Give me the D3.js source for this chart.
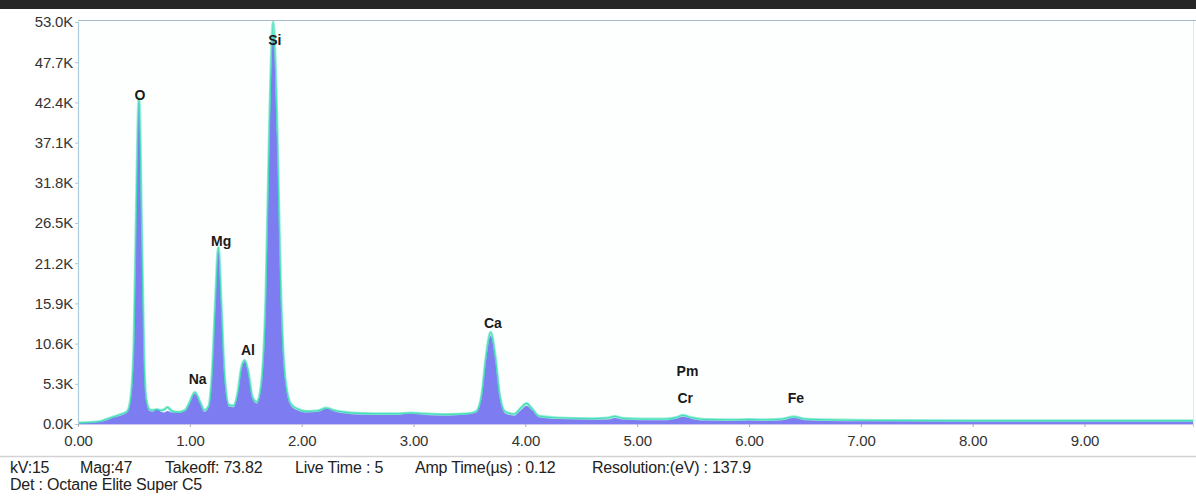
<!DOCTYPE html>
<html>
<head>
<meta charset="utf-8">
<script src="https://cdn.jsdelivr.net/npm/d3@7"></script>
<style>
	body { margin: 0; background: #ffffff; }
	svg { display: block; font-family: "Liberation Sans", Arial, sans-serif; }
</style>
</head>
<body>
<svg id="spectrum"></svg>
<script>
// energy (keV) of each read point
const energyKeV = [0, 0.1, 0.2, 0.26, 0.32, 0.38, 0.44, 0.47, 0.50, 0.52, 0.545, 0.57, 0.59, 0.61, 0.64, 0.67, 0.705, 0.74, 0.77, 0.80,
	0.84, 0.90, 0.96, 1.00, 1.045, 1.09, 1.13, 1.17, 1.20, 1.23, 1.255, 1.28, 1.31, 1.35, 1.39, 1.43, 1.46, 1.49, 1.52, 1.56,
	1.60, 1.64, 1.68, 1.71, 1.745, 1.78, 1.81, 1.85, 1.90, 1.96, 2.05, 2.15, 2.22, 2.30, 2.45, 2.65, 2.85, 2.97, 3.10, 3.30,
	3.48, 3.56, 3.61, 3.65, 3.69, 3.73, 3.77, 3.82, 3.90, 3.96, 4.01, 4.06, 4.12, 4.30, 4.60, 4.74, 4.80, 4.87, 5.05, 5.25,
	5.35, 5.41, 5.48, 5.60, 5.85, 6.00, 6.15, 6.30, 6.40, 6.50, 6.70, 7.00, 8.00, 9.00, 9.97];

// filled spectrum (purple)
const countsFill = [100, 150, 250, 500, 850, 1100, 1500, 3000, 10000, 26000, 42500, 24000, 8000, 3000, 1700, 1600, 2000, 1600, 1500, 1700,
	1500, 1450, 1700, 2700, 4000, 2700, 1600, 2200, 6500, 16000, 22800, 15500, 6000, 2300, 2200, 4000, 7000, 8200, 6800, 3300,
	2700, 5000, 16000, 36000, 51500, 38000, 18000, 6000, 2500, 1800, 1500, 1600, 2000, 1600, 1300, 1200, 1200, 1350, 1200, 1100,
	1250, 1500, 3500, 8500, 11600, 8500, 3500, 1400, 1100, 1800, 2400, 1800, 900, 650, 550, 600, 800, 600, 500, 500,
	700, 950, 700, 450, 400, 450, 400, 500, 800, 500, 400, 350, 300, 300, 300];

// outline spectrum (turquoise)
const countsLine = [150, 200, 350, 650, 950, 1250, 1650, 3200, 10500, 27000, 43000, 25000, 8500, 3200, 1900, 1800, 1900, 1800, 1900, 2200,
	1700, 1550, 1850, 2900, 4200, 2900, 1800, 2400, 6800, 16500, 23300, 16000, 6300, 2500, 2400, 4200, 7300, 8400, 7000, 3500,
	2900, 5300, 17000, 38000, 53000, 39000, 19000, 6300, 2700, 2000, 1650, 1750, 2100, 1750, 1450, 1350, 1350, 1450, 1350, 1250,
	1350, 1650, 3800, 9000, 12100, 9000, 3800, 1600, 1300, 2100, 2700, 2000, 1050, 800, 700, 800, 1000, 750, 650, 650,
	850, 1150, 850, 600, 550, 600, 550, 650, 950, 650, 550, 480, 430, 430, 430];

// peak labels
const elementNames = ["O", "Si", "Mg", "Na", "Al", "Ca", "Pm", "Cr", "Fe"];
const elementKeV = [0.555, 1.76, 1.28, 1.07, 1.52, 3.71, 5.45, 5.43, 6.42];
const elementLabelCounts = [43400, 50600, 24100, 5900, 9800, 13300, 7000, 3400, 3400];

// axis ticks
const yTickValues = [0, 5300, 10600, 15900, 21200, 26500, 31800, 37100, 42400, 47700, 53000];
const xTickValues = [0, 1, 2, 3, 4, 5, 6, 7, 8, 9];

// acquisition info under the chart
const infoLine1 = [["kV:15", 10], ["Mag:47", 80], ["Takeoff: 73.82", 165], ["Live Time : 5", 295], ["Amp Time(µs) : 0.12", 415], ["Resolution:(eV) : 137.9", 592]];
const infoLine2 = "Det : Octane Elite Super C5";

function makeChart() {
	let w = 1196;
	let h = 496;

	let marginT = 22;
	let marginL = 78;
	let marginR = 3;
	let marginB = 72;

	let chart = d3.select('#spectrum')
		.attr('width', w)
		.attr('height', h);

	// dark strip at the very top
	chart.append('rect')
		.attr('x', 0).attr('y', 0)
		.attr('width', w).attr('height', 9)
		.attr('fill', '#262626');

	let xScale = d3.scaleLinear()
		.domain([0, 9.97])
		.range([marginL, w - marginR]);

	let yScale = d3.scaleLinear()
		.domain([0, 53000])
		.range([h - marginB, marginT]);

	// plot background + clip
	chart.append('rect')
		.attr('x', marginL).attr('y', marginT - 1)
		.attr('width', w - marginR - marginL).attr('height', h - marginB - marginT + 1)
		.attr('fill', '#fdffff');

	chart.append('clipPath').attr('id', 'plotclip')
		.append('rect')
		.attr('x', marginL).attr('y', marginT - 2)
		.attr('width', w - marginR - marginL).attr('height', h - marginB - marginT + 3);

	let points = energyKeV.map((e, i) => ({ e: e, fill: countsFill[i], line: countsLine[i] }));

	let area = d3.area()
		.x(d => xScale(d.e))
		.y0(yScale(0))
		.y1(d => yScale(d.fill))
		.curve(d3.curveMonotoneX);

	let line = d3.line()
		.x(d => xScale(d.e))
		.y(d => yScale(d.line))
		.curve(d3.curveMonotoneX);

	let plot = chart.append('g').attr('clip-path', 'url(#plotclip)');

	plot.append('path')
		.datum(points)
		.attr('d', line)
		.attr('fill', 'none')
		.attr('stroke', '#45e0b8')
		.attr('stroke-width', 3)
		.attr('stroke-opacity', 0.55);

	plot.append('path')
		.datum(points)
		.attr('d', area)
		.attr('fill', '#7d7cf0');

	plot.append('path')
		.datum(points)
		.attr('d', line)
		.attr('fill', 'none')
		.attr('stroke', '#3fdcb6')
		.attr('stroke-width', 1.3)
		.attr('stroke-opacity', 0.9);

	// frame (top + right)
	chart.append('line')
		.attr('x1', marginL).attr('x2', w)
		.attr('y1', marginT - 1.5).attr('y2', marginT - 1.5)
		.attr('stroke', '#a4bccb').attr('stroke-width', 1.2);
	chart.append('line')
		.attr('x1', w - marginR + 0.5).attr('x2', w - marginR + 0.5)
		.attr('y1', marginT - 1).attr('y2', h - marginB)
		.attr('stroke', '#d6ecf2').attr('stroke-width', 1);

	//AXES
	let yAxis = d3.axisLeft(yScale)
		.tickValues(yTickValues)
		.tickSize(3)
		.tickPadding(2)
		.tickFormat(d => (d / 1000).toFixed(1) + 'K');

	let xAxis = d3.axisBottom(xScale)
		.tickValues(xTickValues)
		.tickSize(3)
		.tickPadding(8)
		.tickFormat(d => d.toFixed(2));

	let gy = chart.append('g')
		.attr('transform', `translate(${marginL},0)`)
		.call(yAxis);
	gy.select('.domain').attr('stroke', '#a9cddc').attr('stroke-width', 1.2);
	gy.selectAll('.tick line').attr('stroke', '#a9cddc');
	gy.selectAll('.tick text')
		.attr('fill', '#333')
		.style('font-size', '15px')
		.style('letter-spacing', '-0.2px');

	let gx = chart.append('g')
		.attr('transform', `translate(0,${h - marginB})`)
		.call(xAxis);
	gx.select('.domain').attr('stroke', '#c9c6f4').attr('stroke-width', 1);
	gx.selectAll('.tick line').attr('stroke', '#aaaaaa');
	gx.selectAll('.tick text')
		.attr('fill', '#333')
		.style('font-size', '15px')
		.style('letter-spacing', '-0.2px');

	// LABELS
	chart.append('g')
		.selectAll('text')
		.data(elementNames)
		.enter()
		.append('text')
		.attr('x', (d, i) => xScale(elementKeV[i]))
		.attr('y', (d, i) => yScale(elementLabelCounts[i]))
		.attr('dy', '0.35em')
		.style('text-anchor', 'middle')
		.style('font-size', '14px')
		.style('font-weight', 'bold')
		.attr('fill', '#1a1a1a')
		.text(d => d);

	// separator + acquisition info
	chart.append('line')
		.attr('x1', 0).attr('x2', w)
		.attr('y1', 456.5).attr('y2', 456.5)
		.attr('stroke', '#d2d2d2').attr('stroke-width', 1.5);

	chart.append('g')
		.selectAll('text')
		.data(infoLine1)
		.enter()
		.append('text')
		.attr('x', d => d[1])
		.attr('y', 473)
		.style('font-size', '16px')
		.style('letter-spacing', '-0.2px')
		.attr('fill', '#222')
		.text(d => d[0]);

	chart.append('text')
		.attr('x', 10)
		.attr('y', 490)
		.style('font-size', '16px')
		.style('letter-spacing', '-0.2px')
		.attr('fill', '#222')
		.text(infoLine2);
}

window.onload = function () {
	makeChart();
}
</script>
</body>
</html>
